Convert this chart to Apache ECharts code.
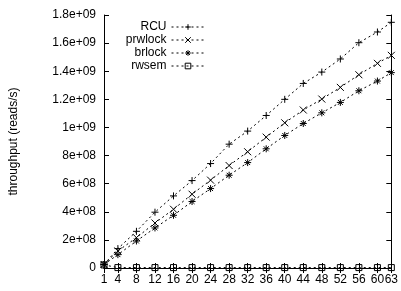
<!DOCTYPE html>
<html>
<head>
<meta charset="utf-8">
<script src="https://cdn.jsdelivr.net/npm/echarts@6/dist/echarts.min.js"></script>
<style>
  html, body { margin: 0; padding: 0; background: #fff; }
  #chart { width: 401px; height: 291px; }
</style>
</head>
<body>
<div id="chart"></div>
<script>
// threads on the x axis
const threads = [1, 4, 8, 12, 16, 20, 24, 28, 32, 36, 40, 44, 48, 52, 56, 60, 63];
const xTicks = [1, 4, 8, 12, 16, 20, 24, 28, 32, 36, 40, 44, 48, 52, 56, 60, 63];
const yTickLabels = ['0', '2e+08', '4e+08', '6e+08', '8e+08', '1e+09', '1.2e+09', '1.4e+09', '1.6e+09', '1.8e+09'];

// reads/s
const rcu = [2.5e7, 1.38e8, 2.61e8, 3.97e8, 5.13e8, 6.22e8, 7.43e8, 8.81e8, 9.74e8, 1.085e9, 1.2e9, 1.313e9, 1.394e9, 1.487e9, 1.603e9, 1.679e9, 1.748e9];
const prwlock = [2.5e7, 1.21e8, 2.16e8, 3.2e8, 4.18e8, 5.25e8, 6.25e8, 7.29e8, 8.27e8, 9.31e8, 1.033e9, 1.124e9, 1.202e9, 1.285e9, 1.375e9, 1.456e9, 1.513e9];
const brlock = [2.5e7, 9.5e7, 1.92e8, 2.85e8, 3.75e8, 4.73e8, 5.65e8, 6.6e8, 7.5e8, 8.48e8, 9.43e8, 1.028e9, 1.104e9, 1.178e9, 1.261e9, 1.33e9, 1.39e9];
const rwsem = [2.2e7, 3e6, 3e6, 3e6, 3e6, 3e6, 3e6, 3e6, 3e6, 3e6, 3e6, 3e6, 3e6, 3e6, 3e6, 3e6, 3e6];

const font = 'Liberation Sans, Arial, sans-serif';
const dash = [2, 3];

const symbols = {
    plus: 'path://M0,5H10M5,0V10',
    cross: 'path://M0,0L10,10M10,0L0,10',
    star: 'path://M0,5H10M5,0V10M1.5,1.5L8.5,8.5M8.5,1.5L1.5,8.5',
    box: 'path://M0,0H10V10H0Z'
};

function makeSeries(name, values, symbol, size) {
    return {
        name: name,
        type: 'line',
        data: threads.map((t, i) => [t, values[i]]),
        symbol: symbol,
        symbolSize: size,
        lineStyle: { color: '#000', width: 1, type: dash },
        itemStyle: { color: 'none', borderColor: '#000', borderWidth: 1 },
        emphasis: { disabled: true }
    };
}

function makeLegend(name, top) {
    return {
        data: [name],
        top: top,
        right: 196,
        align: 'right',
        itemWidth: 33,
        itemHeight: 7,
        itemGap: 8,
        padding: 0,
        selectedMode: false,
        itemStyle: { color: 'none', borderColor: '#000', borderWidth: 1 },
        lineStyle: { color: '#000', width: 1, type: dash },
        textStyle: { fontFamily: font, fontSize: 12, color: '#000', padding: [0, 0, 0, 0] }
    };
}

const xBase = {
    type: 'value',
    min: 1,
    max: 63,
    axisLine: { lineStyle: { color: '#000', width: 1 } },
    splitLine: { show: false }
};
const yBase = {
    type: 'value',
    min: 0,
    max: 1.8e9,
    interval: 2e8,
    axisLine: { show: true, lineStyle: { color: '#000', width: 1 } },
    splitLine: { show: false }
};

const chart = echarts.init(document.getElementById('chart'));
chart.setOption({
    animation: false,
    backgroundColor: '#fff',
    grid: { left: 100, right: 4, top: 15, bottom: 23 },
    legend: [
        makeLegend('RCU', 21),
        makeLegend('prwlock', 34),
        makeLegend('brlock', 47),
        makeLegend('rwsem', 60)
    ],
    xAxis: [
        Object.assign({}, xBase, {
            position: 'bottom',
            axisTick: { inside: true, length: 5, customValues: xTicks, lineStyle: { color: '#000' } },
            axisLabel: { customValues: xTicks, color: '#000', fontFamily: font, fontSize: 12, margin: 6 }
        }),
        Object.assign({}, xBase, {
            position: 'top',
            axisTick: { inside: true, length: 5, customValues: xTicks, lineStyle: { color: '#000' } },
            axisLabel: { show: false }
        })
    ],
    yAxis: [
        Object.assign({}, yBase, {
            position: 'left',
            name: 'throughput (reads/s)',
            nameLocation: 'middle',
            nameGap: 84,
            nameTextStyle: { fontFamily: font, fontSize: 12, color: '#000' },
            axisTick: { inside: true, length: 5, lineStyle: { color: '#000' } },
            axisLabel: {
                color: '#000', fontFamily: font, fontSize: 12, margin: 8,
                formatter: v => yTickLabels[Math.round(v / 2e8)]
            }
        }),
        Object.assign({}, yBase, {
            position: 'right',
            axisTick: { inside: true, length: 5, lineStyle: { color: '#000' } },
            axisLabel: { show: false }
        })
    ],
    series: [
        makeSeries('RCU', rcu, symbols.plus, 7),
        makeSeries('prwlock', prwlock, symbols.cross, 7),
        makeSeries('brlock', brlock, symbols.star, 7),
        makeSeries('rwsem', rwsem, symbols.box, 6)
    ]
});
</script>
</body>
</html>
